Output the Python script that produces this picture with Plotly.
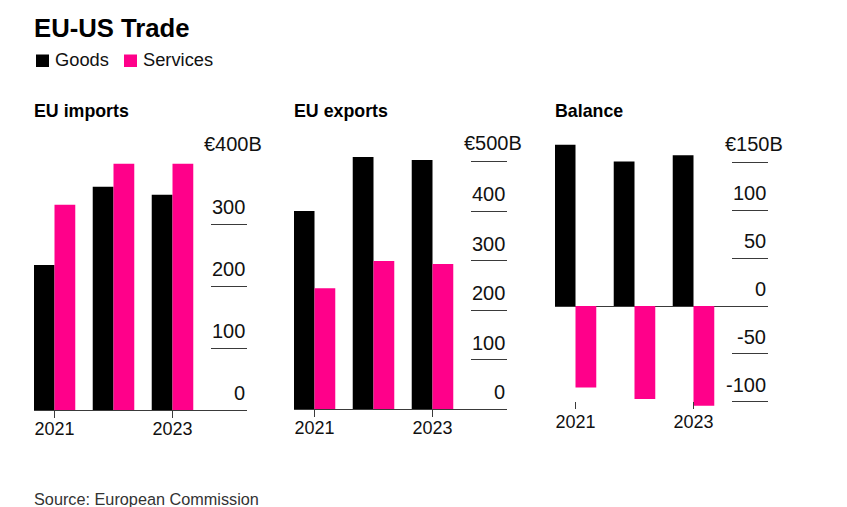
import plotly.graph_objects as go

W, H = 847, 507
years = [2021, 2022, 2023]
imports_goods = [234, 360, 347]
imports_services = [331, 397, 397]
exports_goods = [400, 509, 503]
exports_services = [244, 299, 293]
balance_goods = [168, 150.5, 157]
balance_services = [-85, -97, -104]
imports_ticks = [0, 100, 200, 300, 400]
exports_ticks = [0, 100, 200, 300, 400, 500]
balance_ticks = [-100, -50, 0, 50, 100, 150]
year_ticks = [2021, 2023]
series_names = ["Goods", "Services"]

GOODS = "#000000"
SERVICES = "#ff008a"
LINE = "#3a3a3a"
TEXT = "#111111"
FONT = "Liberation Sans"
TICK_SIZE = 20

panels = [
    dict(title="EU imports", goods=imports_goods, services=imports_services, ticks=imports_ticks,
         left=34, right=247, top=162, bottom=410, x0=54.5, rng=[0, 400], unit="€400B"),
    dict(title="EU exports", goods=exports_goods, services=exports_services, ticks=exports_ticks,
         left=294, right=507, top=151.6, bottom=409, x0=314.5, rng=[0, 520], unit="€500B"),
    dict(title="Balance", goods=balance_goods, services=balance_services, ticks=balance_ticks,
         left=555, right=768, top=142.8, bottom=409, x0=575.5, rng=[-107.3, 170], unit="€150B"),
]
SLOT = 59.0

fig = go.Figure()
annotations = [
    dict(text="<b>EU-US Trade</b>", x=32 / W, y=1 - 28 / H, xref="paper", yref="paper",
         font=dict(size=25.7, color="#000")),
    dict(text="Source: European Commission", x=32 / W, y=1 - 498.5 / H, xref="paper", yref="paper",
         font=dict(size=16.25, color="#333")),
]

# legend keys
shapes = []
for name, col, sx, tx in zip(series_names, [GOODS, SERVICES], [36, 124], [53, 141]):
    shapes.append(dict(type="rect", xref="paper", yref="paper", x0=sx / W, x1=(sx + 13) / W,
                       y0=1 - 67 / H, y1=1 - 54.5 / H, fillcolor=col, line_width=0))
    annotations.append(dict(text=name, x=tx / W, y=1 - 60 / H, xref="paper", yref="paper",
                            font=dict(size=18.3, color=TEXT)))

for i, p in enumerate(panels):
    s = "" if i == 0 else str(i + 1)
    fig.add_bar(x=years, y=p["goods"], name="Goods", marker=dict(color=GOODS, line_width=0),
                xaxis="x" + s, yaxis="y" + s, offsetgroup="g", showlegend=False)
    fig.add_bar(x=years, y=p["services"], name="Services", marker=dict(color=SERVICES, line_width=0),
                xaxis="x" + s, yaxis="y" + s, offsetgroup="s", showlegend=False)
    balance = p["rng"][0] < 0
    fig.update_layout({
        "xaxis" + s: dict(
            domain=[p["left"] / W, p["right"] / W],
            anchor="y" + s,
            range=[2021 + (p["left"] - p["x0"]) / SLOT, 2021 + (p["right"] - p["x0"]) / SLOT],
            tickmode="array", tickvals=year_ticks, ticktext=[str(v) for v in year_ticks],
            ticks="inside" if balance else "outside", ticklen=7, tickwidth=1, tickcolor=LINE,
            ticklabelstandoff=-5 if not balance else 0,
            showgrid=False, zeroline=False, showline=not balance, linecolor=LINE, linewidth=1,
            tickfont=dict(size=18, color=TEXT, family=FONT),
        ),
        "yaxis" + s: dict(
            domain=[1 - p["bottom"] / H, 1 - p["top"] / H],
            anchor="x" + s, side="right", range=p["rng"],
            tickmode="array", tickvals=p["ticks"], showticklabels=False,
            ticks="inside", ticklen=36, tickwidth=1, tickcolor=LINE,
            showgrid=False, showline=False,
            zeroline=balance, zerolinecolor=LINE, zerolinewidth=1,
        ),
    })
    annotations.append(dict(text="<b>" + p["title"] + "</b>", x=(p["left"] - 2) / W, y=1 - 110.5 / H,
                            xref="paper", yref="paper", font=dict(size=17.8, color="#000")))
    top = max(p["ticks"])
    for v in p["ticks"]:
        annotations.append(dict(
            text=p["unit"] if v == top else str(v),
            x=(p["right"] + (17 if v == top else 0)) / W, xanchor="right",
            y=v, yref="y" + s, xref="paper", yanchor="bottom", yshift=5 if v == top else 4,
            font=dict(size=TICK_SIZE, color=TEXT)))

for a in annotations:
    a.setdefault("xanchor", "left")
    a.setdefault("yanchor", "middle")
    a.update(showarrow=False)
    a["font"].setdefault("family", FONT)

fig.update_layout(
    width=W, height=H,
    margin=dict(l=0, r=0, t=0, b=0),
    paper_bgcolor="white", plot_bgcolor="white",
    barmode="group", bargap=0.296, bargroupgap=0,
    font=dict(family=FONT, color="#000"),
    annotations=annotations, shapes=shapes, showlegend=False,
)
fig.write_html("out.html", config=dict(displayModeBar=False),
               post_script="document.body.style.margin='0';document.documentElement.style.overflow='hidden';")
